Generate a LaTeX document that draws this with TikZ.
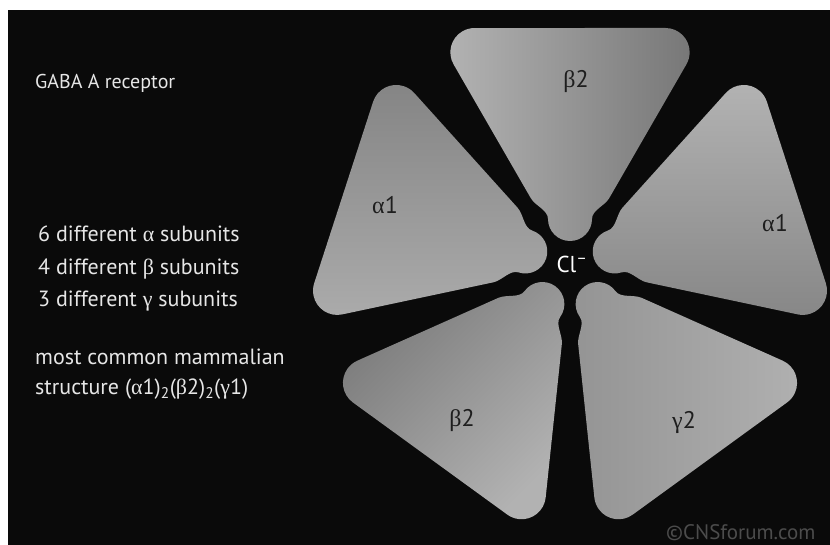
\documentclass[tikz,border=0pt]{standalone}
\usepackage{fontspec}
\setmainfont{PT Sans}
\newfontfamily\greekfont{Liberation Serif}

\definecolor{bgblack}{HTML}{0A0A0A}
\definecolor{infogrey}{HTML}{E6E6E6}
\definecolor{markgrey}{HTML}{4C4C4C}
\definecolor{labeldark}{HTML}{1E1E1E}

\newcommand\galpha{{\greekfont α}}
\newcommand\gbeta{{\greekfont β}}
\newcommand\ggamma{{\greekfont γ}}

\begin{document}
\begin{tikzpicture}[x=1pt, y=1pt,
        infotext/.style={anchor=base west, inner sep=0pt, text=infogrey, font=\fontsize{22}{22}\selectfont},
        sublabel/.style={text=labeldark, font=\fontsize{24}{24}\selectfont},
        topbeta/.style={left color=black!30, right color=black!53},
        leftalpha/.style={top color=black!48, bottom color=black!33},
        rightalpha/.style={top color=black!30, bottom color=black!47},
        lowbeta/.style={top color=black!52, bottom color=black!30, shading angle=45},
        gamma/.style={left color=black!42, right color=black!31}
    ]

        % Page and dark panel
        \useasboundingbox (0,0) rectangle (830,545);
        \fill[white] (0,0) rectangle (830,545);
        \fill[bgblack] (8,0) rectangle (830,535);

        \coordinate (pore) at (570,279);

        % Five subunits around the pore
        \foreach \ang/\tone in {90/topbeta, 162/leftalpha, 18/rightalpha, 234/lowbeta, 306/gamma} {
            \begin{scope}[shift={(pore)}, rotate=\ang]
                \shade[\tone] (68,39.3) -- (201.6,116.4) arc[start angle=120, end angle=0, radius=24.25]
                    -- (238,-95.4) arc[start angle=0, end angle=-120, radius=24.25]
                    -- (68,-39.3) .. controls (60,-34.7) and (56,-22) .. (47,-22)
                    arc[start angle=270, end angle=90, radius=22]
                    .. controls (56,22) and (60,34.7) .. (68,39.3) -- cycle;
            \end{scope}
        }

        % Subunit names
        \node[sublabel] (b2top) at (576,463) {\gbeta2};
        \node[sublabel] (a1left) at (385,340) {\galpha1};
        \node[sublabel] (a1right) at (775,322) {\galpha1};
        \node[sublabel] (b2low) at (462,124) {\gbeta2};
        \node[sublabel] (g2low) at (684,122) {\ggamma2};

        % Chloride channel
        \node[text=white, font=\fontsize{23}{23}\selectfont] (cl) at (572,281) {Cl\textsuperscript{--}};

        % Text on the left
        \node[infotext, font=\fontsize{20}{20}\selectfont] (title) at (35,456) {GABA A receptor};
        \node[infotext] (alphas) at (38,303) {6 different \galpha{} subunits};
        \node[infotext] (betas) at (38,270.5) {4 different \gbeta{} subunits};
        \node[infotext] (gammas) at (38,238.5) {3 different \ggamma{} subunits};
        \node[infotext] (common) at (35,180) {most common mammalian};
        \node[infotext] (formula) at (35,150) {structure (\galpha1)\textsubscript{2}(\gbeta2)\textsubscript{2}(\ggamma1)};

        \node[anchor=east, text=markgrey, font=\fontsize{21}{21}\selectfont] (mark) at (819,12) {©CNSforum.com};

    \end{tikzpicture}
\end{document}
